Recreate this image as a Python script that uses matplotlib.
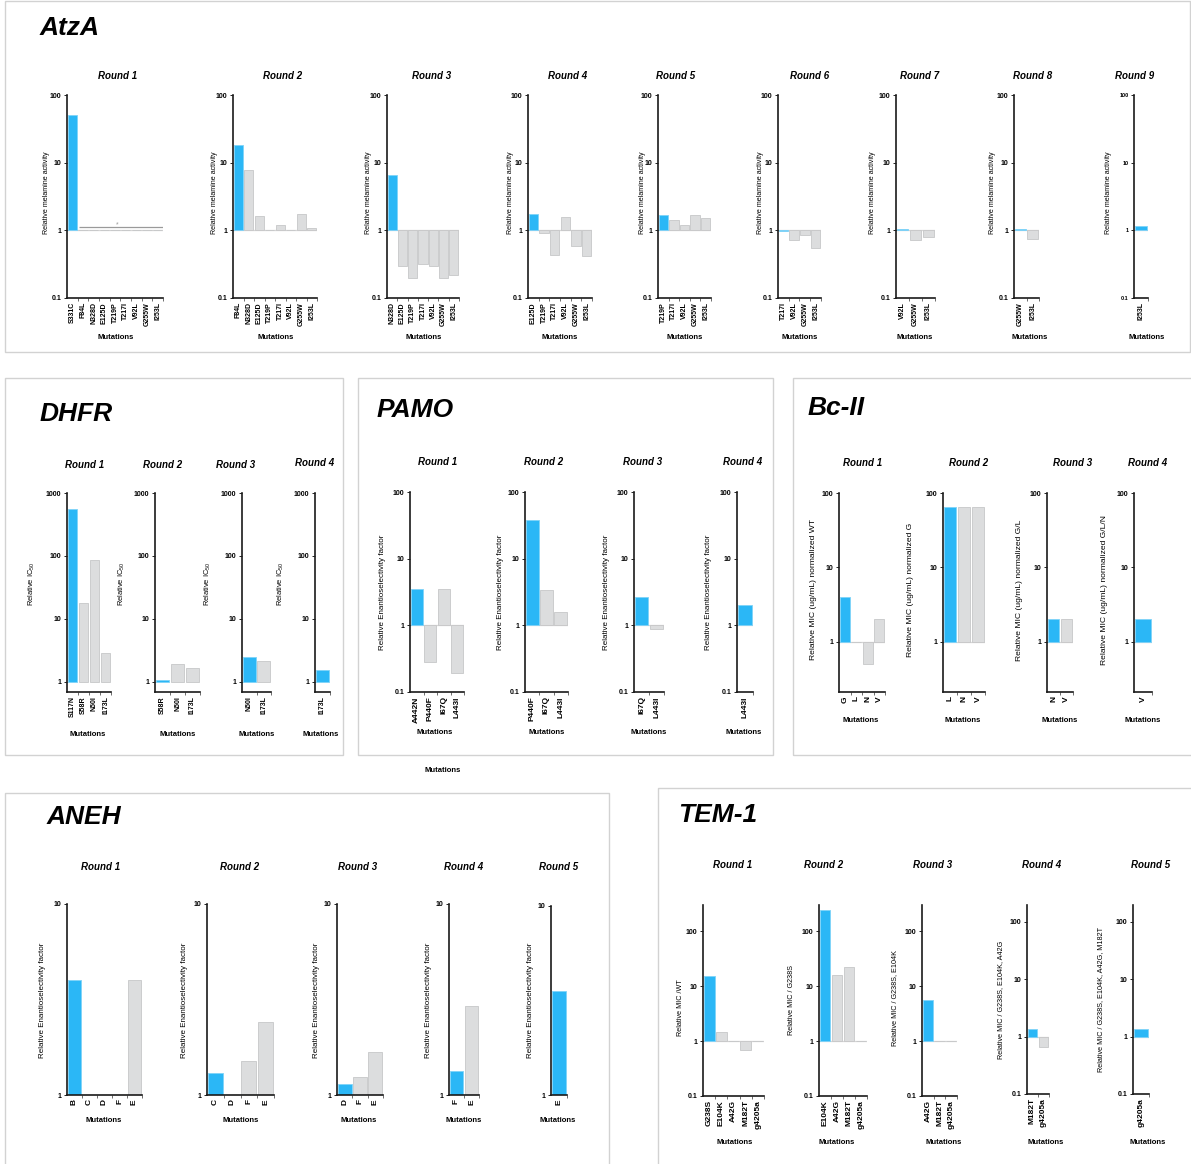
import matplotlib
matplotlib.use('Agg')
import matplotlib.pyplot as plt
from matplotlib.patches import Rectangle
from matplotlib.ticker import NullLocator, FixedLocator
import numpy as np

plt.rcParams['font.family'] = ['Liberation Sans', 'DejaVu Sans']
plt.rcParams['mathtext.fontset'] = 'custom'
plt.rcParams['mathtext.rm'] = 'Liberation Sans'
plt.rcParams['mathtext.it'] = 'Liberation Sans:italic'
plt.rcParams['mathtext.bf'] = 'Liberation Sans:bold'

# ---------------- data ----------------
atza_labels = [
    ["S331C", "F84L", "N328D", "E125D", "T219P", "T217I", "V92L", "G255W", "I253L"],
    ["F84L", "N328D", "E125D", "T219P", "T217I", "V92L", "G255W", "I253L"],
    ["N328D", "E125D", "T219P", "T217I", "V92L", "G255W", "I253L"],
    ["E125D", "T219P", "T217I", "V92L", "G255W", "I253L"],
    ["T219P", "T217I", "V92L", "G255W", "I253L"],
    ["T217I", "V92L", "G255W", "I253L"],
    ["V92L", "G255W", "I253L"],
    ["G255W", "I253L"],
    ["I253L"],
]
atza_values = [
    [50, 1, 1, 1, 1, 1, 1, 1, 1],
    [18, 7.8, 1.65, 1, 1.2, 1, 1.75, 1.1],
    [6.5, 0.3, 0.2, 0.32, 0.3, 0.2, 0.22],
    [1.75, 0.9, 0.43, 1.6, 0.58, 0.42],
    [1.7, 1.4, 1.18, 1.7, 1.5],
    [0.97, 0.72, 0.85, 0.55],
    [1.04, 0.72, 0.8],
    [1.04, 0.75],
    [1.15],
]
atza_r1_line = 1.13

dhfr_labels = [
    ["S117N", "S58R", "N50I", "I173L"],
    ["S58R", "N50I", "I173L"],
    ["N50I", "I173L"],
    ["I173L"],
]
dhfr_values = [
    [560, 18, 85, 2.9],
    [1.07, 1.9, 1.65],
    [2.45, 2.15],
    [1.55],
]

pamo_labels = [
    ["A442N", "P440F", "I67Q", "L443I"],
    ["P440F", "I67Q", "L443I"],
    ["I67Q", "L443I"],
    ["L443I"],
]
pamo_values = [
    [3.5, 0.28, 3.5, 0.19],
    [38, 3.4, 1.6],
    [2.7, 0.87],
    [2.05],
]

bc_labels = [["G", "L", "N", "V"], ["L", "N", "V"], ["N", "V"], ["V"]]
bc_values = [[4, 1, 0.5, 2], [64, 64, 64], [2, 2], [2]]
bc_ylabels = [
    "Relative MIC (ug/mL) normalized WT",
    "Relative MIC (ug/mL) normalized G",
    "Relative MIC (ug/mL) normalized G/L",
    "Relative MIC (ug/mL) normalized G/L/N",
]

aneh_labels = [["B", "C", "D", "F", "E"], ["C", "D", "F", "E"], ["D", "F", "E"], ["F", "E"], ["E"]]
aneh_values = [[4.0, 1, 1, 1, 4.0], [1.3, 1, 1.5, 2.4], [1.14, 1.24, 1.67], [1.34, 2.94], [3.57]]

tem_labels = [
    ["G238S", "E104K", "A42G", "M182T", "g4205a"],
    ["E104K", "A42G", "M182T", "g4205a"],
    ["A42G", "M182T", "g4205a"],
    ["M182T", "g4205a"],
    ["g4205a"],
]
tem_values = [
    [15.6, 1.48, 1, 0.68, 1],
    [246, 16, 22.4, 1],
    [5.7, 1, 1],
    [1.36, 0.66],
    [1.36],
]
tem_ylabels = [
    "Relative MIC /WT",
    "Relative MIC / G238S",
    "Relative MIC / G238S, E104K",
    "Relative MIC / G238S, E104K, A42G",
    "Relative MIC / G238S, E104K, A42G, M182T",
]

# ---------------- styling ----------------
W, H = 1191, 1164
fig = plt.figure(figsize=(W / 100, H / 100), dpi=100)
BLUE = '#2BB7F6'
BLUE_EDGE = '#7FD3F8'
GRAY = '#DCDDDE'
GRAY_EDGE = '#C6C7C8'
AXC = '#1A1A1A'


def fx(x):
    return x / W


def fy(y):
    return 1 - y / H


def box(l, t, r, b):
    fig.add_artist(Rectangle((fx(l), fy(b)), (r - l) / W, (b - t) / H,
                             transform=fig.transFigure, fill=False,
                             edgecolor='#D2D2D2', lw=1.0))


def ftext(x, y, s, **kw):
    fig.text(fx(x), fy(y), s, **kw)


def draw_round(rect, labels, values, ylim, yticks, ytl, baseline=True,
               ytick_fs=5, xtick_fs=5):
    l, r, t, b = rect
    ax = fig.add_axes([fx(l), fy(b), (r - l) / W, (b - t) / H])
    ax.set_yscale('log')
    n = len(labels)
    x = np.arange(n)
    vals = np.array(values, dtype=float)
    colors = [BLUE] + [GRAY] * (n - 1)
    edges = [BLUE_EDGE] + [GRAY_EDGE] * (n - 1)
    if baseline:
        ax.axhline(1, color='#D6D6D6', lw=0.9, zorder=1)
    ax.bar(x, vals - 1, bottom=1, width=0.9, color=colors, edgecolor=edges,
           linewidth=0.6, zorder=2)
    ax.set_xlim(-0.5, n - 0.5)
    ax.set_ylim(*ylim)
    ax.yaxis.set_major_locator(FixedLocator(yticks))
    ax.set_yticklabels(ytl)
    ax.yaxis.set_minor_locator(NullLocator())
    ax.set_xticks(x)
    ax.set_xticklabels(labels, rotation=90)
    ax.xaxis.set_minor_locator(FixedLocator(list(x + 0.5)))
    ax.tick_params(axis='x', which='major', length=0, pad=3, labelsize=xtick_fs)
    ax.tick_params(axis='x', which='minor', length=2.5, width=0.6, color='#555555')
    ax.tick_params(axis='y', which='major', length=2, width=0.6, pad=2,
                   labelsize=ytick_fs)
    for lab in ax.get_xticklabels() + ax.get_yticklabels():
        lab.set_fontweight('bold')
    for s in ('top', 'right'):
        ax.spines[s].set_visible(False)
    for s in ('left', 'bottom'):
        ax.spines[s].set_color(AXC)
        ax.spines[s].set_linewidth(1.2)
    ax.patch.set_alpha(0)
    return ax


def rtitle(x, y, s):
    ftext(x, y, s, ha='center', va='center', fontsize=7, fontweight='bold',
          fontstyle='italic')


def ylab(x, y, s, fs=5):
    ftext(x, y, s, ha='center', va='center', rotation=90, fontsize=fs)


def mut(x, y, fs=5.5):
    ftext(x, y, 'Mutations', ha='center', va='center', fontsize=fs,
          fontweight='bold')


def ptitle(x, y, s):
    ftext(x, y, s, ha='left', va='center', fontsize=19, fontweight='bold',
          fontstyle='italic')


# ---------------- panel boxes ----------------
box(5, 1, 1190, 352)
box(5, 378, 343, 755)
box(358, 378, 773, 755)
box(793, 378, 1195, 755)
box(5, 793, 609, 1168)
box(658, 788, 1195, 1168)

# ---------------- AtzA ----------------
ptitle(40, 28, 'AtzA')
atza_x = [(67, 163), (233, 317), (387, 459), (528, 592), (658, 711),
          (778, 821), (896, 935), (1014, 1039), (1134, 1148)]
atza_tx = [118, 283, 432, 568, 676, 810, 920, 1033, 1135]
atza_yl = [47, 215, 368, 510, 642, 761, 873, 993, 1108]
atza_mx = [116, 276, 424, 560, 685, 800, 915, 1030, 1147]
for i in range(9):
    l, r = atza_x[i]
    ax = draw_round((l, r, 95, 298), atza_labels[i], atza_values[i], (0.1, 100),
                    [0.1, 1, 10, 100], ['0.1', '1', '10', '100'],
                    ytick_fs=5 if i < 8 else 4)
    if i == 0:
        ax.hlines(atza_r1_line, 0.6, len(atza_labels[0]) - 0.5, color='#9A9A9A',
                  lw=0.9, zorder=3)
        ax.text(4.2, atza_r1_line * 1.06, '*', fontsize=5, color='#999999',
                ha='center', va='center')
    rtitle(atza_tx[i], 76, 'Round %d' % (i + 1))
    ylab(atza_yl[i], 193, 'Relative melamine activity', fs=5.1)
    mut(atza_mx[i], 337)

# ---------------- DHFR ----------------
ptitle(40, 414, 'DHFR')
dhfr_x = [(67, 111), (155, 200), (242, 271), (315, 330)]
dhfr_tx = [85, 163, 236, 315]
dhfr_yl = [32, 122, 208, 281]
dhfr_mx = [88, 178, 257, 321]
for i in range(4):
    l, r = dhfr_x[i]
    draw_round((l, r, 493, 692), dhfr_labels[i], dhfr_values[i], (0.69, 1000),
               [1, 10, 100, 1000], ['1', '10', '100', '1000'], baseline=False)
    rtitle(dhfr_tx[i], 465 if i < 3 else 463, 'Round %d' % (i + 1))
    ylab(dhfr_yl[i], 584, 'Relative IC$_{50}$', fs=5.4)
    mut(dhfr_mx[i], 735)

# ---------------- PAMO ----------------
ptitle(377, 410, 'PAMO')
pamo_x = [(410, 464), (525, 568), (634, 664), (737, 753)]
pamo_tx = [438, 544, 643, 743]
pamo_yl = [383, 501, 607, 709]
pamo_mx = [435, 547, 649, 744]
for i in range(4):
    l, r = pamo_x[i]
    draw_round((l, r, 492, 692), pamo_labels[i], pamo_values[i], (0.1, 100),
               [0.1, 1, 10, 100], ['0.1', '1', '10', '100'], xtick_fs=6)
    rtitle(pamo_tx[i], 462, 'Round %d' % (i + 1))
    ylab(pamo_yl[i], 592, 'Relative Enantioselectivity factor', fs=5.8)
    mut(pamo_mx[i], 733)
mut(443, 770)

# ---------------- Bc-II ----------------
ptitle(808, 408, 'Bc-II')
bc_x = [(839, 885), (943, 985), (1047, 1073), (1134, 1152)]
bc_tx = [863, 969, 1073, 1148]
bc_yl = [813, 910, 1020, 1105]
bc_mx = [861, 963, 1060, 1143]
for i in range(4):
    l, r = bc_x[i]
    draw_round((l, r, 493, 692), bc_labels[i], bc_values[i], (0.21, 100),
               [1, 10, 100], ['1', '10', '100'], xtick_fs=6)
    rtitle(bc_tx[i], 463, 'Round %d' % (i + 1))
    ylab(bc_yl[i], 590, bc_ylabels[i], fs=6.1)
    mut(bc_mx[i], 721)

# ---------------- ANEH ----------------
ptitle(47, 817, 'ANEH')
aneh_x = [(67, 142), (207, 274), (337, 383), (449, 479), (551, 567)]
aneh_tx = [101, 240, 358, 464, 559]
aneh_yl = [42, 184, 316, 429, 531]
aneh_mx = [104, 241, 359, 464, 558]
for i in range(5):
    l, r = aneh_x[i]
    t = 904 if i < 4 else 906
    draw_round((l, r, t, 1095), aneh_labels[i], aneh_values[i], (1, 10),
               [1, 10], ['1', '10'], baseline=False, xtick_fs=6)
    rtitle(aneh_tx[i], 867, 'Round %d' % (i + 1))
    ylab(aneh_yl[i], 1000, 'Relative Enantioselectivity factor', fs=5.8)
    mut(aneh_mx[i], 1120)

# ---------------- TEM-1 ----------------
ptitle(678, 815, 'TEM-1')
tem_x = [(703, 764), (819, 867), (922, 957), (1027, 1049), (1133, 1149)]
tem_tx = [733, 824, 933, 1042, 1151]
tem_yl = [681, 792, 895, 1001, 1101]
tem_ycen = [1008, 1000, 998, 1000, 1000]
tem_mx = [735, 837, 944, 1046, 1148]
for i in range(5):
    l, r = tem_x[i]
    if i < 3:
        rect = (l, r, 905, 1096)
        ylim = (0.1, 300)
    else:
        rect = (l, r, 905, 1094)
        ylim = (0.1, 195)
    draw_round(rect, tem_labels[i], tem_values[i], ylim,
               [0.1, 1, 10, 100], ['0.1', '1', '10', '100'], xtick_fs=6)
    rtitle(tem_tx[i], 865, 'Round %d' % (i + 1))
    ylab(tem_yl[i], tem_ycen[i], tem_ylabels[i], fs=5.2)
    mut(tem_mx[i], 1142)

fig.savefig('out.png', dpi=100)
